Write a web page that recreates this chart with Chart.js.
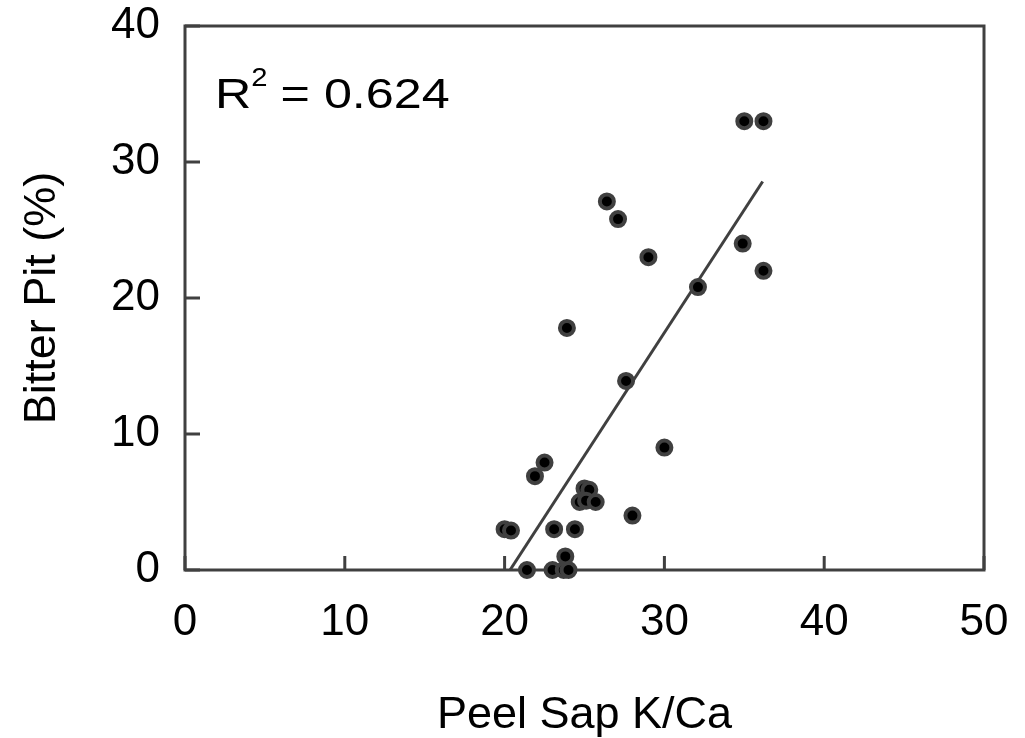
<!DOCTYPE html>
<html>
<head>
<meta charset="utf-8">
<title>Bitter Pit vs Peel Sap K/Ca</title>
<script src="https://cdn.jsdelivr.net/npm/chart.js@4.4.1/dist/chart.umd.min.js"></script>
<style>
  html, body { margin: 0; padding: 0; background: #fff; }
  #wrap { width: 1025px; height: 738px; }
</style>
</head>
<body>
<div id="wrap"><canvas id="grafica" width="1025" height="738"></canvas></div>
<script>
// valores
const kca = [20.0, 20.4, 21.9, 22.5, 21.4, 23.0, 23.1, 23.7, 24.0, 23.8, 23.9, 24.4,
             24.7, 25.0, 25.3, 25.1, 25.7, 26.4, 27.1, 27.6, 28.0, 29.0, 30.0, 32.1,
             35.0, 34.9, 36.2, 36.2];
const bitterPit = [3.0, 2.9, 6.9, 7.9, 0.0, 0.0, 3.0, 0.0, 0.0, 1.0, 17.8, 3.0,
                   5.0, 6.0, 5.9, 5.1, 5.0, 27.1, 25.8, 13.9, 4.0, 23.0, 9.0, 20.8,
                   33.0, 24.0, 33.0, 22.0];
// recta de tendencia (extremos leidos)
const trendX = [20.34, 36.15];
const trendY = [0.0, 28.57];
const xTicks = [0, 10, 20, 30, 40, 50];
const yTicks = [0, 10, 20, 30, 40];
const r2Text = '0.624';

const ink = '#404040';
const fuente = '"Liberation Sans", Arial, sans-serif';

const puntos = kca.map((x, i) => ({ x: x, y: bitterPit[i] }));
const tendencia = trendX.map((x, i) => ({ x: x, y: trendY[i] }));

// quita el relleno que pide cada eje, el area la fija layout.padding
function sinRelleno(s) {
    s.paddingTop = 0;
    s.paddingBottom = 0;
    s.paddingLeft = 0;
    s.paddingRight = 0;
}

// caja, marcas hacia adentro y texto del R2
const marco = {
    id: 'marco',
    beforeDatasetsDraw(chart) {
        const { ctx, chartArea: a, scales } = chart;
        ctx.save();
        ctx.strokeStyle = ink;
        ctx.lineWidth = 3;
        ctx.strokeRect(a.left, a.top, a.right - a.left, a.bottom - a.top);
        ctx.beginPath();
        xTicks.forEach(v => {
            const px = scales.x.getPixelForValue(v);
            ctx.moveTo(px, a.bottom);
            ctx.lineTo(px, a.bottom - 14);
        });
        yTicks.forEach(v => {
            const py = scales.y.getPixelForValue(v);
            ctx.moveTo(a.left, py);
            ctx.lineTo(a.left + 15, py);
        });
        ctx.stroke();
        ctx.restore();
    },
    afterDraw(chart) {
        const { ctx } = chart;
        ctx.save();
        ctx.fillStyle = '#000';
        ctx.textBaseline = 'alphabetic';
        // el texto original esta algo ensanchado
        ctx.translate(215, 108);
        ctx.scale(1.17, 1);
        ctx.font = '43px ' + fuente;
        ctx.fillText('R', 0, 0);
        ctx.font = '25px ' + fuente;
        ctx.fillText('2', 31, -22);
        ctx.font = '43px ' + fuente;
        ctx.fillText('= ' + r2Text, 56, 0);
        ctx.restore();
    }
};

const ctx = document.getElementById('grafica').getContext('2d');
new Chart(ctx, {
    type: 'scatter',
    data: {
        datasets: [{
            label: 'Bitter Pit',
            data: puntos,
            backgroundColor: '#000',
            borderColor: ink,
            borderWidth: 4,
            pointRadius: 7,
            pointHoverRadius: 7,
            clip: false
        }, {
            type: 'line',
            label: 'Tendencia',
            data: tendencia,
            borderColor: ink,
            borderWidth: 3,
            pointRadius: 0,
            fill: false
        }]
    },
    options: {
        responsive: false,
        animation: false,
        layout: { padding: { top: 26, right: 41, left: 0, bottom: 0 } },
        scales: {
            x: {
                type: 'linear',
                min: 0,
                max: 50,
                afterFit: s => { s.height = 168; sinRelleno(s); },
                afterBuildTicks: s => { s.ticks = xTicks.map(v => ({ value: v })); },
                grid: { display: false, drawTicks: false },
                border: { display: false },
                ticks: { color: '#000', padding: 26, font: { family: fuente, size: 44 } },
                title: {
                    display: true,
                    text: 'Peel Sap K/Ca',
                    color: '#000',
                    padding: { top: 0, bottom: 0 },
                    font: { family: fuente, size: 45, lineHeight: 1 }
                }
            },
            y: {
                type: 'linear',
                min: 0,
                max: 40,
                afterFit: s => { s.width = 185; sinRelleno(s); },
                afterBuildTicks: s => { s.ticks = yTicks.map(v => ({ value: v })); },
                grid: { display: false, drawTicks: false },
                border: { display: false },
                ticks: { color: '#000', padding: 25, font: { family: fuente, size: 44 } },
                title: {
                    display: true,
                    text: 'Bitter Pit (%)',
                    color: '#000',
                    padding: { top: 20, bottom: 0 },
                    font: { family: fuente, size: 45, lineHeight: 1 }
                }
            }
        },
        plugins: {
            legend: { display: false },
            tooltip: { enabled: false }
        }
    },
    plugins: [marco]
});
</script>
</body>
</html>
